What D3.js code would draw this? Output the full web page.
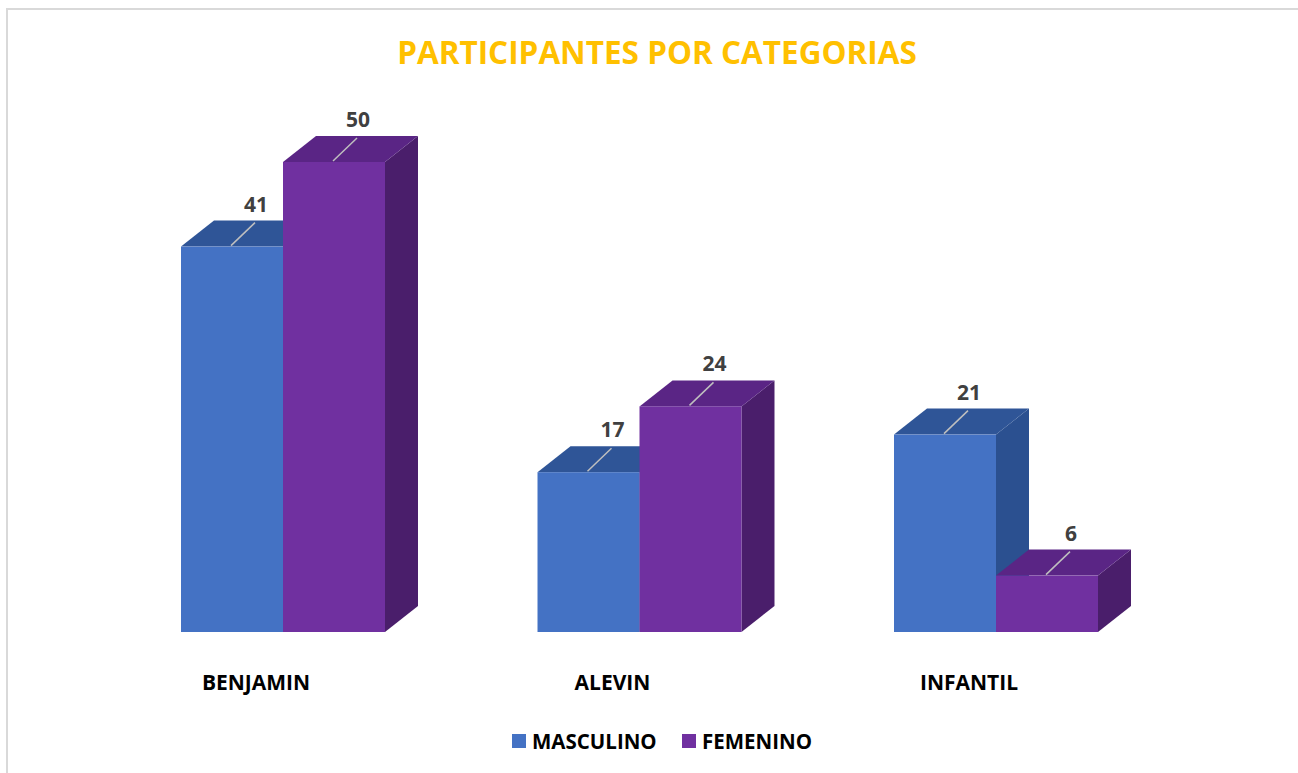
<!DOCTYPE html>
<html>
<head>
<meta charset="utf-8">
<script src="https://cdn.jsdelivr.net/npm/d3@7"></script>
<style>
  html, body { margin: 0; padding: 0; background: #ffffff; }
  svg { display: block; }
  text { font-family: "Open Sans", "Noto Sans", sans-serif; font-weight: 700; }
</style>
</head>
<body>
<svg id="chart" width="1298" height="773"></svg>
<script>
// Participants per category, split by sex
const categories = ["BENJAMIN", "ALEVIN", "INFANTIL"];
const seriesNames = ["MASCULINO", "FEMENINO"];
const masculino = [41, 17, 21];
const femenino = [50, 24, 6];
const title = "PARTICIPANTES POR CATEGORIAS";

const W = 1298, H = 773;
const svg = d3.select("#chart");

// Outer frame
svg.append("rect")
  .attr("x", 7).attr("y", 9)
  .attr("width", W + 20).attr("height", H + 20)
  .attr("fill", "#ffffff")
  .attr("stroke", "#d9d9d9").attr("stroke-width", 2);

// Face colours: front / top / side
const palette = [
  { front: "#4472c4", top: "#2f5597", side: "#2b5090" },
  { front: "#7030a0", top: "#5a2585", side: "#4a1e6b" }
];

// Scales
const floorY = 632;
const y = d3.scaleLinear().domain([0, 50]).range([floorY, 162]);
const x0 = d3.scaleBand().domain(categories)
  .range([104.75, 1174.25]).paddingInner(0.4278).paddingOuter(0.2139);
const x1 = d3.scaleBand().domain(seriesNames).range([0, x0.bandwidth()]);
const depth = { dx: 33, dy: -26 };

const rows = categories.map((c, i) => ({ cat: c, values: [masculino[i], femenino[i]] }));

const bars = svg.append("g");
rows.forEach(row => {
  row.values.forEach((v, si) => {
    const xl = x0(row.cat) + x1(seriesNames[si]);
    const xr = xl + x1.bandwidth();
    const yt = y(v);
    const col = palette[si];
    const g = bars.append("g");
    // side face
    g.append("path")
      .attr("d", `M${xr},${floorY} L${xr + depth.dx},${floorY + depth.dy} L${xr + depth.dx},${yt + depth.dy} L${xr},${yt} Z`)
      .attr("fill", col.side);
    // top face
    g.append("path")
      .attr("d", `M${xl},${yt} L${xl + depth.dx},${yt + depth.dy} L${xr + depth.dx},${yt + depth.dy} L${xr},${yt} Z`)
      .attr("fill", col.top);
    // front face
    g.append("rect")
      .attr("x", xl).attr("y", yt)
      .attr("width", xr - xl).attr("height", floorY - yt)
      .attr("fill", col.front);
  });
});

// Value labels with leader lines
const labels = svg.append("g");
rows.forEach(row => {
  row.values.forEach((v, si) => {
    const cx = x0(row.cat) + x1(seriesNames[si]) + x1.bandwidth() / 2;
    const yt = y(v);
    labels.append("line")
      .attr("x1", cx - 1).attr("y1", yt - 1)
      .attr("x2", cx + 23).attr("y2", yt - 24)
      .attr("stroke", "#bfbfbf").attr("stroke-width", 1.5);
    labels.append("text")
      .attr("x", cx + 24).attr("y", yt - 35)
      .attr("text-anchor", "middle")
      .attr("font-size", 21)
      .attr("fill", "#404040")
      .text(v);
  });
});

// Category labels
svg.append("g").selectAll("text")
  .data(categories)
  .join("text")
  .attr("x", d => x0(d) + x0.bandwidth() / 2 - 27)
  .attr("y", 690)
  .attr("text-anchor", "middle")
  .attr("font-size", 21)
  .attr("fill", "#000000")
  .text(d => d);

// Title
svg.append("text")
  .attr("x", 657).attr("y", 64)
  .attr("text-anchor", "middle")
  .attr("font-size", 31.5)
  .attr("fill", "#ffc000")
  .text(title);

// Legend
const legendItems = [
  { name: seriesNames[0], color: palette[0].front, x: 512 },
  { name: seriesNames[1], color: palette[1].front, x: 682 }
];
const lg = svg.append("g");
legendItems.forEach(it => {
  lg.append("rect")
    .attr("x", it.x).attr("y", 734)
    .attr("width", 14).attr("height", 14)
    .attr("fill", it.color);
  lg.append("text")
    .attr("x", it.x + 20).attr("y", 749)
    .attr("font-size", 20.5)
    .attr("fill", "#000000")
    .text(it.name);
});
</script>
</body>
</html>
